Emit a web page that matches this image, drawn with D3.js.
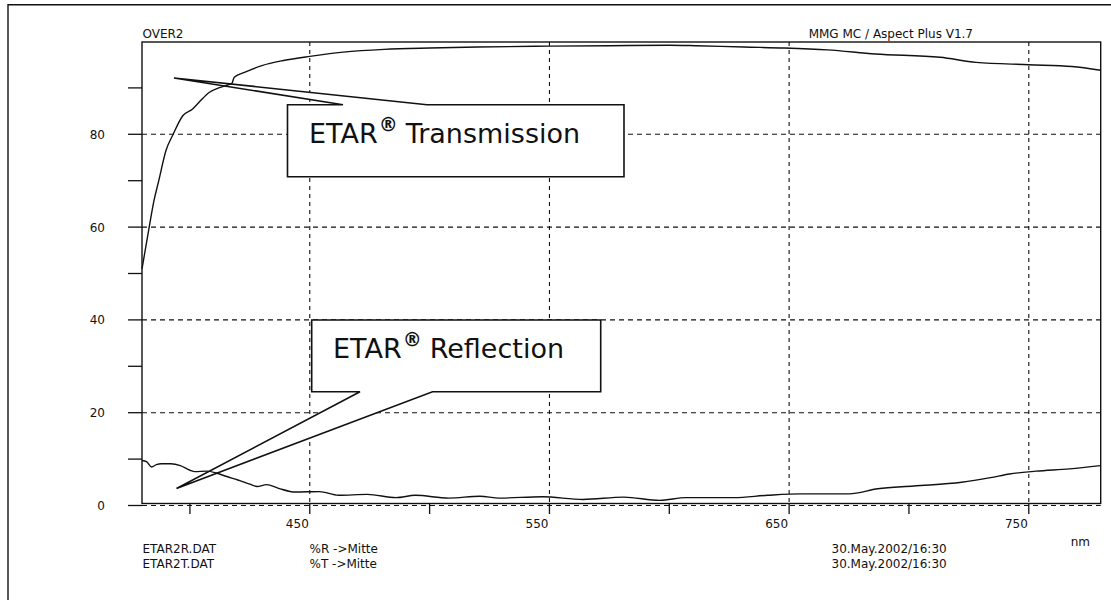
<!DOCTYPE html>
<html><head><meta charset="utf-8">
<script src="https://cdn.jsdelivr.net/npm/d3@7"></script>
<style>
html,body{margin:0;padding:0;background:#fff;}
svg text{font-family:"DejaVu Sans",sans-serif;fill:#111;}
</style></head>
<body>
<svg id="chart" width="1111" height="600"></svg>
<script>
// ---- data ----
const transWl = [380,383,385,387,390,393,397,401,404,408,412,415,417.5,418.5,423,430,439,450,464,481,500,520,550,575,600,611,631,648,666,686,713,728,750,768,780];
const transVal = [51,60,65.7,70,76.5,80,84,85.4,87.0,89,90,90.5,91,92.3,93.4,94.8,95.9,96.8,97.7,98.3,98.6,98.8,99.0,99.1,99.2,99.1,98.8,98.6,98.2,97.3,96.6,95.5,95.0,94.6,93.8];
const reflWl = [380,382,384,386,388,392,396,400,402,407,411,415,420,425,428,432,437,444,454,462,474,486,494,508,521,529,547,564,581,596,607,627,641,655,675,687,702,722,734,742,753,767,780];
const reflVal = [9.7,9.4,8.3,8.8,9.0,9.0,8.6,7.6,7.3,7.4,7.0,6.3,5.5,4.6,4.1,4.5,3.7,2.9,3.0,2.2,2.4,1.7,2.2,1.6,2.0,1.6,1.9,1.3,1.8,1.1,1.7,1.7,2.2,2.5,2.5,3.6,4.2,5.0,6.0,6.8,7.4,7.9,8.6];
const xTicks = [400,450,500,550,600,650,700,750];
const xLabels = [450,550,650,750];
const yTicks = [0,10,20,30,40,50,60,70,80,90];
const yLabels = [0,20,40,60,80];
const fileNames = ["ETAR2R.DAT","ETAR2T.DAT"];
const modes = ["%R ->Mitte","%T ->Mitte"];
const stamps = ["30.May.2002/16:30","30.May.2002/16:30"];

const svg = d3.select("#chart");
const x = d3.scaleLinear().domain([380,780]).range([142,1100.7]);
const y = d3.scaleLinear().domain([0,100]).range([505.5,41.5]);

// outer border (top + left visible)
svg.append("path").attr("d","M8,600 L8,4.7 L1111,4.7").attr("fill","none").attr("stroke","#111").attr("stroke-width",1.4);

// gridlines
const g = svg.append("g");
g.selectAll(".hg").data(yLabels).enter().append("line")
  .attr("x1",142).attr("x2",1100.7).attr("y1",d=>y(d)).attr("y2",d=>y(d))
  .attr("stroke","#111").attr("stroke-width",1.1).attr("stroke-dasharray","5,4");
g.selectAll(".vg").data(xLabels).enter().append("line")
  .attr("x1",d=>x(d)).attr("x2",d=>x(d)).attr("y1",42).attr("y2",505)
  .attr("stroke","#111").attr("stroke-width",1.1).attr("stroke-dasharray","4,4");

// frame
svg.append("rect").attr("x",142).attr("y",42).attr("width",1100.7-142).attr("height",503.5-42)
  .attr("fill","none").attr("stroke","#111").attr("stroke-width",1.4);

// y ticks
svg.selectAll(".yt").data(yTicks).enter().append("line")
  .attr("x1",128).attr("x2",142).attr("y1",d=>y(d)).attr("y2",d=>y(d))
  .attr("stroke","#111").attr("stroke-width",1.3);
svg.selectAll(".yl").data(yLabels).enter().append("text")
  .attr("x",105).attr("y",d=>y(d)+4.5).attr("text-anchor","end").attr("font-size",12).text(d=>d);

// x ticks
svg.selectAll(".xt").data(xTicks).enter().append("line")
  .attr("x1",d=>x(d)).attr("x2",d=>x(d)).attr("y1",504).attr("y2",514)
  .attr("stroke","#111").attr("stroke-width",1.3);
svg.selectAll(".xl").data(xLabels).enter().append("text")
  .attr("x",d=>x(d)-1).attr("y",528).attr("text-anchor","end").attr("font-size",12).text(d=>d);

// headers
svg.append("text").attr("x",142.5).attr("y",37.5).attr("font-size",12).text("OVER2");
svg.append("text").attr("x",973).attr("y",37.5).attr("text-anchor","end").attr("font-size",12).text("MMG MC / Aspect Plus V1.7");
svg.append("text").attr("x",1090).attr("y",546).attr("text-anchor","end").attr("font-size",12).text("nm");
fileNames.forEach((t,i)=>{
  svg.append("text").attr("x",142.5).attr("y",552.5+i*15.5).attr("font-size",12).text(t);
  svg.append("text").attr("x",309.5).attr("y",552.5+i*15.5).attr("font-size",12).text(modes[i]);
  svg.append("text").attr("x",831.5).attr("y",552.5+i*15.5).attr("font-size",12).text(stamps[i]);
});

// callouts
function callout(box, gap, apex, label, tx, ty, top){
  let d;
  const [x0,y0,x1,y1] = box;
  if(top){
    d = `M${x0},${y0} L${gap[0]},${y0} L${apex[0]},${apex[1]} L${gap[1]},${y0} L${x1},${y0} L${x1},${y1} L${x0},${y1} Z`;
  } else {
    d = `M${x0},${y0} L${x1},${y0} L${x1},${y1} L${gap[1]},${y1} L${apex[0]},${apex[1]} L${gap[0]},${y1} L${x0},${y1} Z`;
  }
  svg.append("path").attr("d",d).attr("fill","#fff").attr("stroke","#111").attr("stroke-width",1.6).attr("stroke-linejoin","miter");
  const t = svg.append("text").attr("x",tx).attr("y",ty).attr("font-size",27);
  t.append("tspan").text("ETAR");
  t.append("tspan").attr("font-size",19).attr("font-weight","bold").attr("dy",-12).attr("dx",1).text("®");
  t.append("tspan").attr("dy",12).attr("dx",8).text(label);
}
callout([287.5,104.7,624,176.7],[343,427],[174,78],"Transmission",309,142.7,true);
callout([311.7,320,600.7,391.7],[360,432.5],[176.5,488.5],"Reflection",333,358.3,false);

// curves
const line = d3.line().x(d=>x(d[0])).y(d=>y(d[1])).curve(d3.curveMonotoneX);
svg.append("path").attr("d",line(transWl.map((w,i)=>[w,transVal[i]])))
  .attr("fill","none").attr("stroke","#111").attr("stroke-width",1.4);
svg.append("path").attr("d",line(reflWl.map((w,i)=>[w,reflVal[i]])))
  .attr("fill","none").attr("stroke","#111").attr("stroke-width",1.4);
</script>
</body></html>
